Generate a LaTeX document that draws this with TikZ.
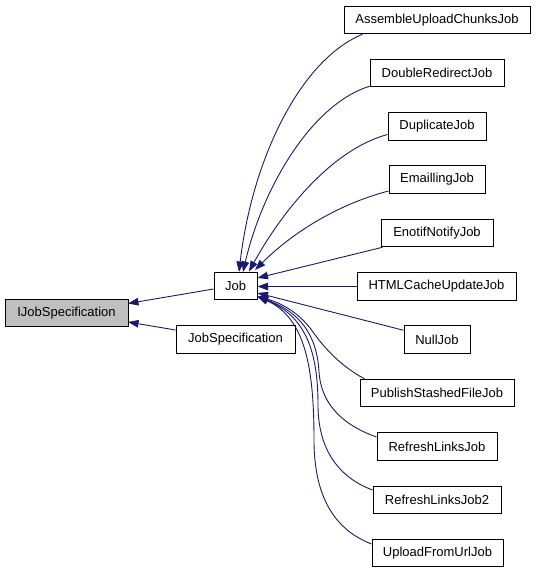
\documentclass[tikz,border=0pt]{standalone}
\usepackage{fontspec}
\setmainfont{Liberation Sans}
\usetikzlibrary{arrows.meta}
\definecolor{edgecol}{HTML}{191970}
\definecolor{grayfill}{HTML}{BFBFBF}
\tikzset{
  cls/.style={draw=black, line width=1pt, fill=white, inner sep=0pt, minimum height=27.5pt,
    font=\fontsize{13}{15}\selectfont, text=black},
  edge/.style={draw=edgecol, line width=0.9pt, -{Triangle[length=10.5pt,width=7.5pt]}},
}
\begin{document}
\begin{tikzpicture}[x=1pt,y=-1pt]
\useasboundingbox (0,0) rectangle (536,573);
\node[cls, fill=grayfill, minimum width=123pt] (ijs) at (66.5,313) {IJobSpecification};
\node[cls, minimum width=43pt] (job) at (235.5,286) {Job};
\node[cls, minimum width=119pt] (jspec) at (235.5,339.5) {JobSpecification};
\node[cls, minimum width=186pt] (assemble) at (437,20) {AssembleUploadChunksJob};
\node[cls, minimum width=134pt] (dredir) at (437,73) {DoubleRedirectJob};
\node[cls, minimum width=98pt] (dup) at (437,126.5) {DuplicateJob};
\node[cls, minimum width=96pt] (email) at (437,179.5) {EmaillingJob};
\node[cls, minimum width=112pt] (enotif) at (437,233) {EnotifNotifyJob};
\node[cls, minimum width=159pt] (html) at (436.5,286.5) {HTMLCacheUpdateJob};
\node[cls, minimum width=66pt] (null) at (437,339.5) {NullJob};
\node[cls, minimum width=154pt] (publish) at (437,393) {PublishStashedFileJob};
\node[cls, minimum width=120pt] (rlinks) at (437,446.5) {RefreshLinksJob};
\node[cls, minimum width=128pt] (rlinks2) at (437,500) {RefreshLinksJob2};
\node[cls, minimum width=131pt] (upload) at (437.5,553) {UploadFromUrlJob};

\coordinate (jobT1) at (239,272);
\coordinate (jobT2) at (243,272);
\coordinate (jobT3) at (249,271.5);
\coordinate (jobT4) at (255,270);
\coordinate (jobR1) at (257.5,278);
\coordinate (jobR2) at (257.5,286.5);
\coordinate (jobR3) at (257.5,293);
\coordinate (jobB) at (257.5,296.5);
\coordinate (ijsR1) at (128,303.5);
\coordinate (ijsR2) at (128,322);

\draw[edge] (job.west |- 0,289) -- (ijsR1);
\draw[edge] (jspec.west |- 0,330) -- (ijsR2);

\draw[edge] (assemble.south west) ++(19,0) .. controls (300,60) and (252,160) .. (jobT1);
\draw[edge] (dredir.south west) ++(0,-1) .. controls (310,105) and (262,190) .. (jobT2);
\draw[edge] (dup.west) ++(0,8) .. controls (330,150) and (280,215) .. (jobT3);
\draw[edge] (email.west) ++(0,11.5) .. controls (335,205) and (290,235) .. (jobT4);
\draw[edge] (enotif.south west) ++(2,0) -- (jobR1);
\draw[edge] (html.west) -- (jobR2);
\draw[edge] (null.north west) ++(0,5) -- (jobR3);
\draw[edge] (publish.north west) ++(5,0) .. controls (340,366) and (322,345) .. (313,332) .. controls (302,316) and (285,304) .. (jobB);
\draw[edge] (rlinks.west) ++(0,-9.5) .. controls (340,424) and (321,402) .. (319,372) .. controls (317,335) and (300,312) .. (jobB);
\draw[edge] (rlinks2.west) ++(0,-10) .. controls (335,476) and (318,445) .. (318,405) .. controls (318,350) and (305,316) .. (jobB);
\draw[edge] (upload.west) ++(0,-9) .. controls (330,528) and (314,490) .. (314,440) .. controls (314,370) and (306,318) .. (jobB);
\end{tikzpicture}
\end{document}
